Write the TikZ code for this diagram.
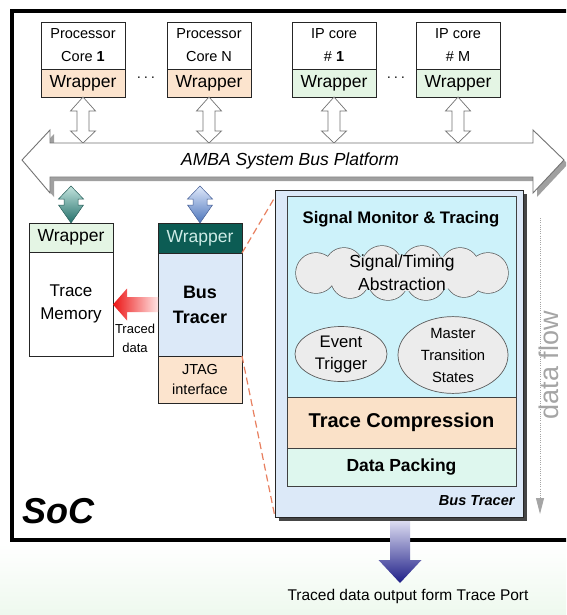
\documentclass[tikz,border=0pt]{standalone}
\usepackage{fontspec}
\setmainfont{Liberation Sans}
\usetikzlibrary{shapes.geometric,calc,arrows.meta}
\newcommand{\myfs}[2]{\fontsize{#1}{#2}\selectfont}
% vertical double block arrow: style, top coord, bottom coord, head half width, shaft half width, top head length, bottom head length
\newcommand{\vdbl}[7]{%
  \path[#1] let \p1=(#2), \p2=(#3) in
    (\x1,\y1) -- (\x1+#4,\y1-#6) -- (\x1+#5,\y1-#6) -- (\x1+#5,\y2+#7) -- (\x1+#4,\y2+#7)
    -- (\x1,\y2) -- (\x1-#4,\y2+#7) -- (\x1-#5,\y2+#7) -- (\x1-#5,\y1-#6) -- (\x1-#4,\y1-#6) -- cycle;}
\definecolor{peach}{RGB}{252,228,206}
\definecolor{lgreen}{RGB}{228,245,228}
\definecolor{tealdark}{RGB}{12,92,84}
\definecolor{tealtext}{RGB}{205,235,230}
\definecolor{lblue}{RGB}{220,233,248}
\definecolor{lcyan}{RGB}{205,242,250}
\definecolor{peachb}{RGB}{250,225,200}
\definecolor{mint}{RGB}{222,247,238}
\definecolor{cloudgray}{RGB}{236,236,236}
\definecolor{ellborder}{RGB}{90,90,90}
\definecolor{dashor}{RGB}{232,128,96}
\definecolor{busborder}{RGB}{115,115,115}
\definecolor{busshadow}{RGB}{160,160,160}
\definecolor{bigshadow}{RGB}{70,70,70}
\definecolor{flowgray}{RGB}{165,165,165}
\begin{document}
\begin{tikzpicture}[x=1pt,y=-1pt,
  every node/.style={font=\myfs{15}{18}},
  blk/.style={draw=black!85, line width=0.7pt, inner sep=0pt, outer sep=0pt, align=center, anchor=north west},
  wrap/.style={blk, minimum width=84, minimum height=28, font=\myfs{17.5}{20}},
  core/.style={blk, fill=white, minimum width=84, minimum height=47, font=\myfs{14.5}{23}},
  hollow/.style={fill=white, draw=busborder, line width=0.7pt},
  sub/.style={blk, draw=black!75, minimum width=229},
  bubble/.style={fill=cloudgray, draw=ellborder, line width=0.7pt, inner sep=0pt, align=center}]
\clip (0,0) rectangle (566,615);
\fill[white] (0,0) rectangle (566,615);
\shade[top color=white, bottom color={rgb,255:red,238;green,249;blue,238}] (0,543) rectangle (566,615);

% SoC frame
\draw[line width=3.5pt] (590,11) -- (12,11) -- (12,540) -- (590,540);
\node[anchor=base west, font=\bfseries\itshape\myfs{36}{40}] (soc) at (19,523) {SoC};

% top cores
\node[core] (c1) at (41,22) {Processor\\Core \textbf{1}};
\node[wrap, fill=peach] (c1w) at (41,69) {Wrapper};
\node[core] (cn) at (167,22) {Processor\\Core N};
\node[wrap, fill=peach] (cnw) at (167,69) {Wrapper};
\node[core] (ip1) at (292,22) {IP core\\\# \textbf{1}};
\node[wrap, fill=lgreen] (ip1w) at (292,69) {Wrapper};
\node[core] (ipm) at (416,22) {IP core\\\# M};
\node[wrap, fill=lgreen] (ipmw) at (416,69) {Wrapper};
\node[font=\myfs{14}{16}] (d1) at (146,79) {·\,·\,·};
\node[font=\myfs{14}{16}] (d2) at (396,79) {·\,·\,·};

% hollow double arrows to bus
\vdbl{hollow}{c1w.south}{$(c1w.south)+(0,46)$}{12.5pt}{6pt}{14pt}{12pt}
\vdbl{hollow}{cnw.south}{$(cnw.south)+(0,46)$}{12.5pt}{6pt}{14pt}{12pt}
\vdbl{hollow}{ip1w.south}{$(ip1w.south)+(0,46)$}{12.5pt}{6pt}{14pt}{12pt}
\vdbl{hollow}{ipmw.south}{$(ipmw.south)+(0,46)$}{12.5pt}{6pt}{14pt}{12pt}

% memory and bus tracer columns
\node[wrap, fill=lgreen, minimum height=29] (mw) at (29,223) {Wrapper};
\node[blk, fill=white, minimum width=84, minimum height=104, font=\myfs{17}{23}] (mem) at (29,252) {Trace\\Memory};
\node[wrap, fill=tealdark, text=tealtext, minimum height=30] (btw) at (158,223) {Wrapper};
\node[blk, fill=lblue, minimum width=84, minimum height=103, font=\bfseries\myfs{18}{25}] (bt) at (158,253) {Bus\\Tracer};
\node[blk, fill=peach, minimum width=84, minimum height=47, font=\myfs{14.5}{20}] (jt) at (158,356) {JTAG\\interface};

% gradient double arrows from bus
\vdbl{top color={rgb,255:red,195;green,228;blue,222}, bottom color={rgb,255:red,35;green,112;blue,106}, draw={rgb,255:red,40;green,95;blue,90}, line width=0.5pt}{$(mw.north)+(0,-37)$}{mw.north}{12.5pt}{7pt}{13pt}{18pt}
\vdbl{top color={rgb,255:red,222;green,232;blue,250}, bottom color={rgb,255:red,78;green,118;blue,188}, draw={rgb,255:red,70;green,95;blue,150}, line width=0.5pt}{$(btw.north)+(0,-37)$}{btw.north}{12.5pt}{7pt}{13pt}{18pt}

% AMBA bus
\coordinate (busl) at (22,160);
\coordinate (busr) at (564,160);
\fill[busshadow]
  ([shift={(4,4)}]busl) -- ++(28,-30) -- ++(0,13) -- ++(483,0) -- ++(0,-13) -- ([shift={(4,4)}]busr)
  -- ++(-31,33) -- ++(0,-16) -- ++(-483,0) -- ++(0,16) -- cycle;
\draw[hollow, line width=0.9pt] (busl) -- ++(28,-30) -- ++(0,13) -- ++(483,0) -- ++(0,-13) -- (busr)
  -- ++(-31,33) -- ++(0,-16) -- ++(-483,0) -- ++(0,16) -- cycle;
\node[font=\itshape\myfs{17.5}{20}] (amba) at (290,161) {AMBA System Bus Platform};

% red traced-data arrow
\path[left color={rgb,255:red,236;green,20;blue,20}, right color={rgb,255:red,255;green,228;blue,228}]
  let \p1=(mem.east), \p2=(bt.west) in
  (\x1,\y2) -- (\x1+14pt,\y2+16pt) -- (\x1+14pt,\y2+7.5pt) -- (\x2,\y2+7.5pt) -- (\x2,\y2-7.5pt)
  -- (\x1+14pt,\y2-7.5pt) -- (\x1+14pt,\y2-16pt) -- cycle;
\node[font=\myfs{13}{19}, align=center] (td) at (135,338) {Traced\\data};

% output arrow (drawn before the big box so that its top is hidden)
\coordinate (outtip) at (400,583);
\path[top color={rgb,255:red,232;green,232;blue,248}, bottom color={rgb,255:red,30;green,30;blue,135}]
  let \p1=(outtip) in
  (\x1,\y1) -- (\x1+21.5pt,\y1+23pt) -- (\x1+10pt,\y1+23pt) -- (\x1+10pt,\y1+66pt)
  -- (\x1-10pt,\y1+66pt) -- (\x1-10pt,\y1+23pt) -- (\x1-21.5pt,\y1+23pt) -- cycle;
\node[anchor=base, font=\myfs{15.5}{18}] (outtxt) at (408,600) {Traced data output form Trace Port};

% big bus tracer box
\fill[bigshadow] (279,194) rectangle (527,521);
\node[blk, fill=lblue, minimum width=248, minimum height=327] (bb) at (275,190) {};
\node[sub, fill=lcyan, minimum height=201] (sm) at (287,196) {};
\node[sub, fill=peachb, minimum height=51, font=\bfseries\myfs{20}{22}] (tc) at (287,397) {Trace Compression};
\node[sub, fill=mint, minimum height=38, font=\bfseries\myfs{17.5}{20}] (dp) at (287,448) {Data Packing};
\node[anchor=base, font=\bfseries\myfs{16.7}{20}] (smt) at (401,223) {Signal Monitor \& Tracing};

% cloud: union of puffs (outline drawn first, fill on top)
\coordinate (cl) at (402,273);
\foreach \dx/\dy/\r in {-86/0/20, -58/-6/19, -20/-7/20, 20/-7/20, 58/-6/19, 86/0/20, 62/6/18, 24/7/20, -14/7/20, -52/6/19}
  \draw[ellborder, line width=1.4pt] ($(cl)+(\dx,\dy)$) circle[radius=\r];
\foreach \dx/\dy/\r in {-86/0/20, -58/-6/19, -20/-7/20, 20/-7/20, 58/-6/19, 86/0/20, 62/6/18, 24/7/20, -14/7/20, -52/6/19}
  \fill[cloudgray] ($(cl)+(\dx,\dy)$) circle[radius=\r];
\fill[cloudgray] (cl) ellipse[x radius=92, y radius=18];
\node[font=\myfs{17.5}{23}, align=center] (clt) at (cl) {Signal/Timing\\Abstraction};

\node[bubble, ellipse, minimum width=92, minimum height=55, font=\myfs{16.7}{22}] (ev) at (341,354) {Event\\Trigger};
\node[bubble, ellipse, minimum width=110, minimum height=74, font=\myfs{14.8}{22}] (ms) at (453,355) {Master\\Transition\\States};
\node[anchor=base east, font=\bfseries\itshape\myfs{14.5}{16}] (btl) at (518,505) {Bus Tracer};

% zoom lines
\draw[dashor, line width=1.2pt, dash pattern=on 7pt off 4pt] (bt.north east) -- ($(bb.north west)+(0,7)$);
\draw[dashor, line width=1.2pt, dash pattern=on 7pt off 4pt] (jt.north east) -- (bb.south west);

% data flow
\coordinate (dft) at (540,218);
\coordinate (dfb) at (540,514);
\draw[flowgray, line width=0.9pt, dash pattern=on 1pt off 1.2pt, -{Triangle[length=16pt, width=8pt]}] (dft) -- (dfb);
\node[rotate=90, anchor=base, inner sep=0pt, text=flowgray, font=\myfs{27}{29}] (df) at (558,365) {data flow};
\end{tikzpicture}
\end{document}
